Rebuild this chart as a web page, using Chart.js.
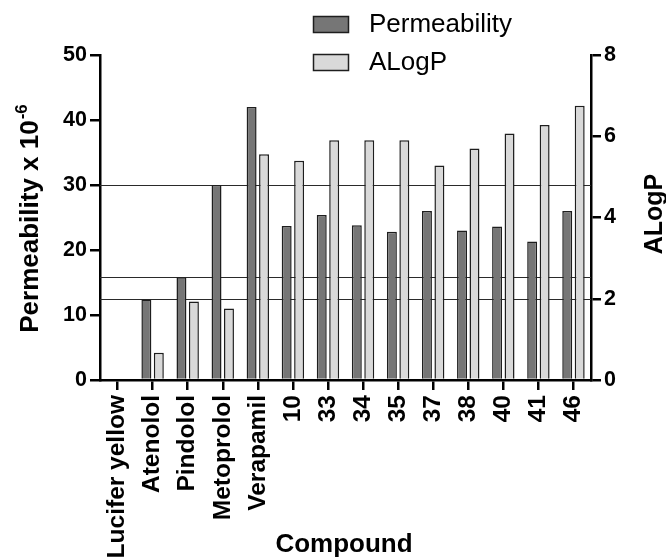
<!DOCTYPE html>
<html>
<head>
<meta charset="utf-8">
<script src="https://cdn.jsdelivr.net/npm/chart.js@4/dist/chart.umd.min.js"></script>
<style>
  html, body { margin: 0; padding: 0; background: #fff; }
  #wrap { width: 666px; height: 558px; }
</style>
</head>
<body>
<div id="wrap"><canvas id="c" width="666" height="558"></canvas></div>
<script>
// ---- data ----
const compounds = ['Lucifer yellow', 'Atenolol', 'Pindolol', 'Metoprolol', 'Verapamil',
  '10', '33', '34', '35', '37', '38', '40', '41', '46'];
const permeability = [0, 12.4, 15.8, 30.0, 42.0, 23.7, 25.4, 23.8, 22.8, 26.0, 23.0, 23.6, 21.3, 26.0];
const alogp = [0, 0.67, 1.93, 1.76, 5.56, 5.40, 5.90, 5.90, 5.90, 5.28, 5.70, 6.07, 6.28, 6.75];
const referenceCompounds = ['Atenolol', 'Pindolol', 'Metoprolol'];
const permTicks = [0, 10, 20, 30, 40, 50];
const alogpTicks = [0, 2, 4, 6, 8];
const seriesNames = ['Permeability', 'ALogP'];
const axisTitles = { left: 'Permeability x 10', leftSup: '-6', right: 'ALogP', bottom: 'Compound' };

const FONT = '"Liberation Sans", Arial, sans-serif';
const DARK = '#767676', LIGHT = '#d9d9d9', EDGE = '#1e1e1e';

const referencePlugin = {
  id: 'refLines',
  beforeDatasetsDraw(chart) {
    const { ctx, chartArea, scales } = chart;
    ctx.save();
    ctx.strokeStyle = '#2a2a2a';
    ctx.lineWidth = 1.2;
    referenceCompounds.forEach(name => {
      const v = permeability[compounds.indexOf(name)];
      const y = Math.round(scales.y.getPixelForValue(v)) + 0.5;
      ctx.beginPath();
      ctx.moveTo(chartArea.left, y);
      ctx.lineTo(chartArea.right, y);
      ctx.stroke();
    });
    ctx.restore();
  }
};

const decorPlugin = {
  id: 'decor',
  afterDraw(chart) {
    const { ctx } = chart;
    ctx.save();
    ctx.fillStyle = '#000';
    // left title with superscript
    ctx.save();
    ctx.translate(38, 219);
    ctx.rotate(-Math.PI / 2);
    ctx.font = 'bold 26px ' + FONT;
    const w1 = ctx.measureText(axisTitles.left).width;
    ctx.font = 'bold 17px ' + FONT;
    const w2 = ctx.measureText(axisTitles.leftSup).width;
    const start = -(w1 + w2) / 2;
    ctx.textBaseline = 'alphabetic';
    ctx.textAlign = 'left';
    ctx.font = 'bold 26px ' + FONT;
    ctx.fillText(axisTitles.left, start, 0);
    ctx.font = 'bold 17px ' + FONT;
    ctx.fillText(axisTitles.leftSup, start + w1 + 1, -11);
    ctx.restore();
    // right title
    ctx.save();
    ctx.translate(662, 214);
    ctx.rotate(-Math.PI / 2);
    ctx.font = 'bold 25px ' + FONT;
    ctx.textAlign = 'center';
    ctx.textBaseline = 'alphabetic';
    ctx.fillText(axisTitles.right, 0, 0);
    ctx.restore();
    // bottom title
    ctx.font = 'bold 26px ' + FONT;
    ctx.textAlign = 'center';
    ctx.textBaseline = 'alphabetic';
    ctx.fillText(axisTitles.bottom, 344, 552);
    // legend
    const items = chart.data.datasets.map(d => ({ label: d.label, fill: d.backgroundColor }));
    const ys = [16, 54];
    items.forEach((it, i) => {
      ctx.fillStyle = it.fill;
      ctx.strokeStyle = EDGE;
      ctx.lineWidth = 1.5;
      ctx.fillRect(313, ys[i], 36, 17);
      ctx.strokeRect(313.5, ys[i] + 0.5, 35, 16);
      ctx.fillStyle = '#000';
      ctx.font = '26px ' + FONT;
      ctx.textAlign = 'left';
      ctx.textBaseline = 'middle';
      ctx.fillText(it.label, 369, ys[i] + 9);
    });
    ctx.restore();
  }
};

const axisGrid = { display: true, drawOnChartArea: false, drawTicks: true, tickLength: 10, lineWidth: 2.5, color: '#000' };
const axisBorder = { display: true, color: '#000', width: 2.5 };

new Chart(document.getElementById('c'), {
  type: 'bar',
  data: {
    labels: compounds,
    datasets: [
      { label: seriesNames[0], data: permeability, yAxisID: 'y', backgroundColor: DARK,
        borderColor: EDGE, borderWidth: 1.5, categoryPercentage: 0.71, barPercentage: 0.8 },
      { label: seriesNames[1], data: alogp, yAxisID: 'y2', backgroundColor: LIGHT,
        borderColor: EDGE, borderWidth: 1.5, categoryPercentage: 0.71, barPercentage: 0.8 }
    ]
  },
  options: {
    responsive: false,
    animation: false,
    devicePixelRatio: 1,
    layout: { padding: { top: 55, left: 0, right: 0, bottom: 0 } },
    plugins: { legend: { display: false }, tooltip: { enabled: false }, title: { display: false } },
    scales: {
      x: {
        type: 'category',
        offset: true,
        grid: Object.assign({}, axisGrid, { offset: false }),
        border: axisBorder,
        ticks: { color: '#000', font: { family: FONT, size: 24.5, weight: 'bold' },
                 minRotation: 90, maxRotation: 90, autoSkip: false, padding: 5 },
        afterFit: s => { s.height = 178; }
      },
      y: {
        position: 'left', min: 0, max: 50,
        afterBuildTicks: s => { s.ticks = permTicks.map(v => ({ value: v })); },
        grid: axisGrid, border: axisBorder,
        ticks: { color: '#000', font: { family: FONT, size: 21.5, weight: 'bold' }, padding: 3 },
        afterFit: s => { s.width = 100; }
      },
      y2: {
        position: 'right', min: 0, max: 8,
        afterBuildTicks: s => { s.ticks = alogpTicks.map(v => ({ value: v })); },
        grid: axisGrid, border: axisBorder,
        ticks: { color: '#000', font: { family: FONT, size: 21.5, weight: 'bold' }, padding: 3 },
        afterFit: s => { s.width = 75; }
      }
    }
  },
  plugins: [referencePlugin, decorPlugin]
});
</script>
</body>
</html>
